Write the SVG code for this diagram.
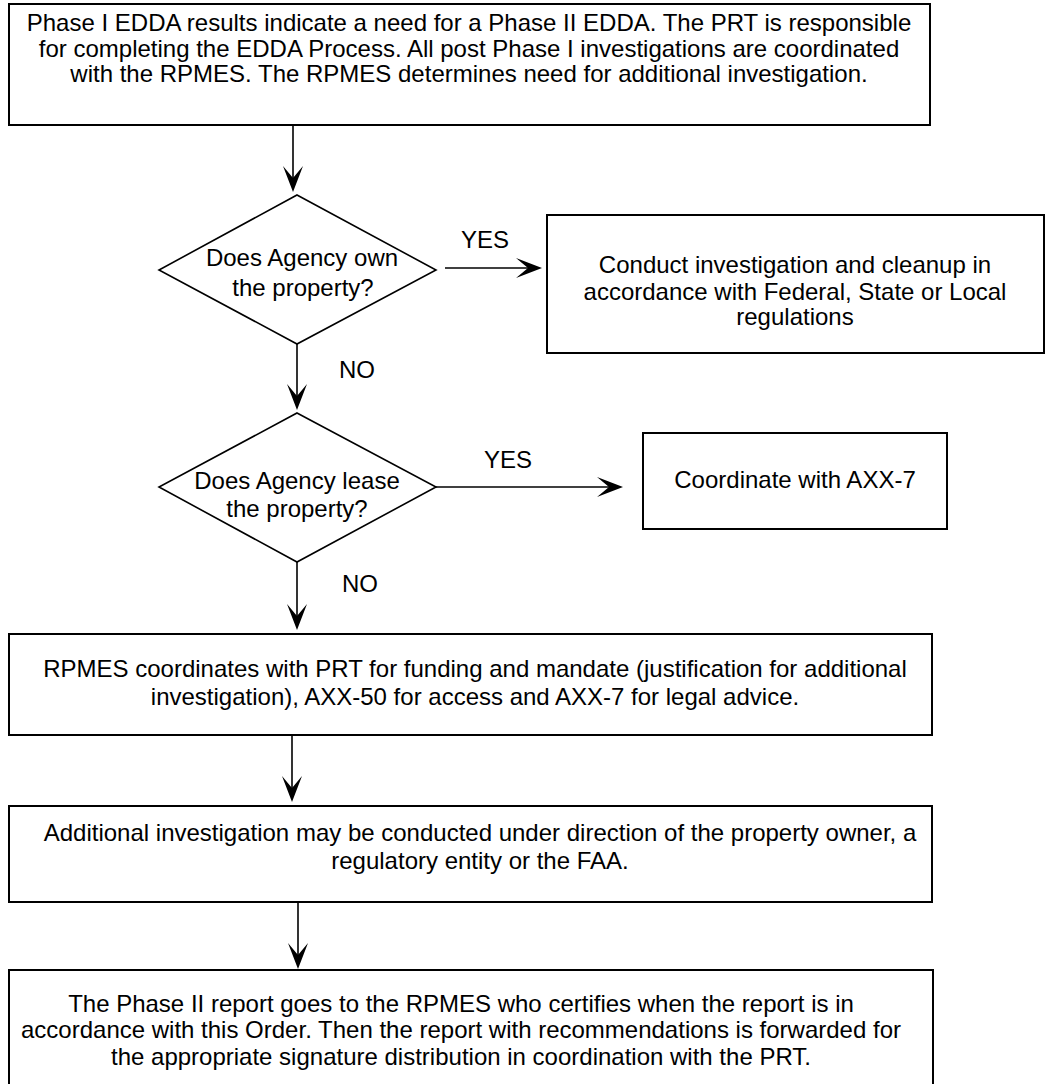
<svg xmlns="http://www.w3.org/2000/svg" width="1045" height="1084" viewBox="0 0 1045 1084">
  <style>
    .box { fill: #ffffff; stroke: #000000; stroke-width: 2; }
    .dia { fill: #ffffff; stroke: #000000; stroke-width: 1.6; }
    .wire { fill: none; stroke: #000000; stroke-width: 1.6; }
    text { font-family: "Liberation Sans", Arial, sans-serif; font-size: 24px; fill: #000000; }
    .c { text-anchor: middle; }
  </style>
  <defs>
    <marker id="arrow" viewBox="-27 -11 28 22" refX="-4" refY="0" markerWidth="28" markerHeight="22" markerUnits="userSpaceOnUse" orient="auto">
      <path d="M0,0 L-26,-10 L-14,0 L-26,10 Z" fill="#000000"/>
    </marker>
  </defs>
  <rect width="1045" height="1084" fill="#ffffff"/>

  <!-- connectors -->
  <g id="connectors">
    <line class="wire" x1="293" y1="125" x2="293" y2="188" marker-end="url(#arrow)"/>
    <line class="wire" x1="445" y1="268" x2="538" y2="268" marker-end="url(#arrow)"/>
    <line class="wire" x1="297" y1="344" x2="297" y2="406" marker-end="url(#arrow)"/>
    <line class="wire" x1="436" y1="487" x2="619" y2="487" marker-end="url(#arrow)"/>
    <line class="wire" x1="297" y1="562" x2="297" y2="626" marker-end="url(#arrow)"/>
    <line class="wire" x1="292" y1="735" x2="292" y2="798" marker-end="url(#arrow)"/>
    <line class="wire" x1="298" y1="902" x2="298" y2="965" marker-end="url(#arrow)"/>
    <text x="485" y="248" class="c">YES</text>
    <text x="339" y="378">NO</text>
    <text x="508" y="468" class="c">YES</text>
    <text x="342" y="592">NO</text>
  </g>

  <g id="start">
    <rect class="box" x="9" y="4" width="921" height="121"/>
    <text class="c" x="469" y="31">Phase I EDDA results indicate a need for a Phase II EDDA. The PRT is responsible</text>
    <text class="c" x="469" y="57">for completing the EDDA Process. All post Phase I investigations are coordinated</text>
    <text class="c" x="469" y="82">with the RPMES. The RPMES determines need for additional investigation.</text>
  </g>

  <g id="own-decision">
    <polygon class="dia" points="297,195 436,270 297,344 159,270"/>
    <text class="c" x="302" y="266">Does Agency own</text>
    <text class="c" x="303" y="296">the property?</text>
  </g>

  <g id="cleanup">
    <rect class="box" x="547" y="215" width="497" height="138"/>
    <text class="c" x="795" y="273">Conduct investigation and cleanup in</text>
    <text class="c" x="795" y="300">accordance with Federal, State or Local</text>
    <text class="c" x="795" y="325">regulations</text>
  </g>

  <g id="lease-decision">
    <polygon class="dia" points="297,413 436,487 297,562 159,487"/>
    <text class="c" x="297" y="489">Does Agency lease</text>
    <text class="c" x="297" y="517">the property?</text>
  </g>

  <g id="legal">
    <rect class="box" x="643" y="433" width="304" height="96"/>
    <text class="c" x="795" y="488">Coordinate with AXX-7</text>
  </g>

  <g id="coordination">
    <rect class="box" x="9" y="634" width="923" height="101"/>
    <text class="c" x="475" y="677">RPMES coordinates with PRT for funding and mandate (justification for additional</text>
    <text class="c" x="475" y="705">investigation), AXX-50 for access and AXX-7 for legal advice.</text>
  </g>

  <g id="investigation">
    <rect class="box" x="9" y="806" width="923" height="96"/>
    <text class="c" x="480" y="841">Additional investigation may be conducted under direction of the property owner, a</text>
    <text class="c" x="480" y="869">regulatory entity or the FAA.</text>
  </g>

  <g id="report">
    <rect class="box" x="9" y="970" width="924" height="130"/>
    <text class="c" x="461" y="1012">The Phase II report goes to the RPMES who certifies when the report is in</text>
    <text class="c" x="461" y="1038">accordance with this Order. Then the report with recommendations is forwarded for</text>
    <text class="c" x="461" y="1065">the appropriate signature distribution in coordination with the PRT.</text>
  </g>
</svg>
